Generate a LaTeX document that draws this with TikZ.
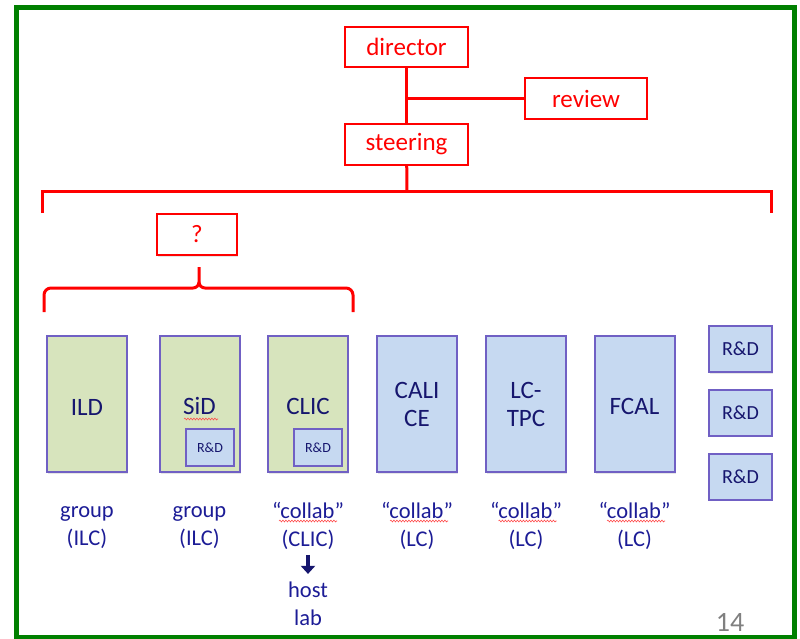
\documentclass[tikz,border=0pt]{standalone}
\usepackage{fontspec}
\setmainfont{Carlito}
\usetikzlibrary{arrows.meta,shadows,decorations.pathmorphing}

\definecolor{frameGreen}{RGB}{0,128,0}
\definecolor{detGreen}{RGB}{215,228,189}
\definecolor{detBlue}{RGB}{198,217,241}
\definecolor{detBorder}{RGB}{112,96,196}
\definecolor{detText}{RGB}{22,22,110}
\definecolor{labText}{RGB}{28,28,150}
\definecolor{pageGray}{RGB}{128,128,128}

\tikzset{
  redbox/.style={draw=red, line width=1.1pt, fill=white, text=red, inner sep=0pt,
    font=\fontsize{25}{30}\selectfont,
    drop shadow={opacity=0.2, shadow xshift=1pt, shadow yshift=-1.5pt}},
  redline/.style={red, line width=3pt},
  detbox/.style={draw=detBorder, line width=2pt, inner sep=0pt, text=detText,
    minimum width=80pt, minimum height=136pt, align=center,
    font=\fontsize{25}{28}\selectfont,
    execute at begin node={\rule{0pt}{22pt}},
    drop shadow={opacity=0.2, shadow xshift=1pt, shadow yshift=-1.5pt}},
  rdbox/.style={draw=detBorder, line width=2pt, fill=detBlue, text=detText, inner sep=0pt},
  lab/.style={text=labText, align=center, inner sep=0pt, font=\fontsize{22.5}{28}\selectfont},
  squiggle/.style={red!70, line width=0.6pt, decorate,
    decoration={snake, segment length=3pt, amplitude=0.9pt}}
}

\begin{document}
\begin{tikzpicture}[x=1pt,y=1pt,yscale=-1,xscale=1]
\useasboundingbox (0,0) rectangle (800,639);

% frame
\draw [frameGreen, line width=5pt] (16,8) rectangle (794,637);

% Red boxes
\node [redbox, minimum width=123pt, minimum height=40pt] (director) at (406.5,47) {director};
\node [redbox, minimum width=122pt, minimum height=41pt] (review) at (586,98.5) {review};
\node [redbox, minimum width=123pt, minimum height=41pt] (steering) at (406.5,144.5) {steering};
\node [redbox, minimum width=80pt, minimum height=41pt] (question) at (197,234.5) {?};

% Connections
\draw [redline] (director) -- (steering);
\draw [redline] (review) -- (review -| director);
\coordinate (brT) at (407,192);
\coordinate (brL) at (42,213);
\coordinate (brR) at (771,213);
\draw [redline] (steering) -- (brT);
\draw [redline] (brL) |- (brT) -| (brR);

% curly brace
\coordinate (cbL) at (44,312);
\coordinate (cbR) at (353,312);
\coordinate (cbT) at (199,267);
\draw [redline, line join=round] (cbL) -- (44,295) to[out=-90,in=180] (51,288) -- (193,288)
  to[out=0,in=90] (199,282) -- (cbT);
\draw [redline, line join=round] (cbR) -- (353,295) to[out=-90,in=0] (346,288) -- (205,288)
  to[out=180,in=90] (199,282);

% Detector boxes
\node [detbox, fill=detGreen] (ILD) at (87,404) {ILD};
\node [detbox, fill=detGreen] (SiD) at (199.5,404) {SiD};
\node [detbox, fill=detGreen] (CLIC) at (308,404) {CLIC};
\node [detbox, fill=detBlue] (CALICE) at (417,404) {CALI\\CE};
\node [detbox, fill=detBlue] (LCTPC) at (526,404) {LC-\\TPC};
\node [detbox, fill=detBlue] (FCAL) at (634.5,404) {FCAL};

% R&D boxes
\node [rdbox, minimum width=48pt, minimum height=37pt, font=\fontsize{14}{16}\selectfont] (SiDrd) at (210,447.5) {R\&D};
\node [rdbox, minimum width=48pt, minimum height=37pt, font=\fontsize{14}{16}\selectfont] (CLICrd) at (318,447.5) {R\&D};
\foreach \y [count=\i] in {349,412.5,476.5}
  \node [rdbox, minimum width=63pt, minimum height=46pt, font=\fontsize{20}{24}\selectfont,
    drop shadow={opacity=0.2, shadow xshift=1pt, shadow yshift=-1.5pt}] (rd\i) at (740.5,\y) {R\&D};

% Labels
\node [lab] (ILDlab) at (87,528) {group\\(ILC)};
\node [lab] (SiDlab) at (199.5,528) {group\\(ILC)};
\node [lab] (CLIClab) at (308,526) {“collab”\\(CLIC)};
\node [lab] (CALICElab) at (417,526) {“collab”\\(LC)};
\node [lab] (LCTPClab) at (526,526) {“collab”\\(LC)};
\node [lab] (FCALlab) at (634.5,526) {“collab”\\(LC)};
\node [lab] (host) at (308,604) {host\\lab};
\draw [detText, line width=4pt, -{Triangle[width=14pt,length=8pt]}, shorten <=5pt, shorten >=8pt] (CLIClab) -- (host);

% spell-check marks
\draw [squiggle] (184,419) -- (218,419);
\foreach \cx in {308,419,527.5,636}
  \draw [squiggle] (\cx-29,521) -- (\cx+29,521);

% page number
\node [text=pageGray, font=\fontsize{28}{30}\selectfont, inner sep=0pt] (pagenum) at (730,622) {14};

\end{tikzpicture}
\end{document}
